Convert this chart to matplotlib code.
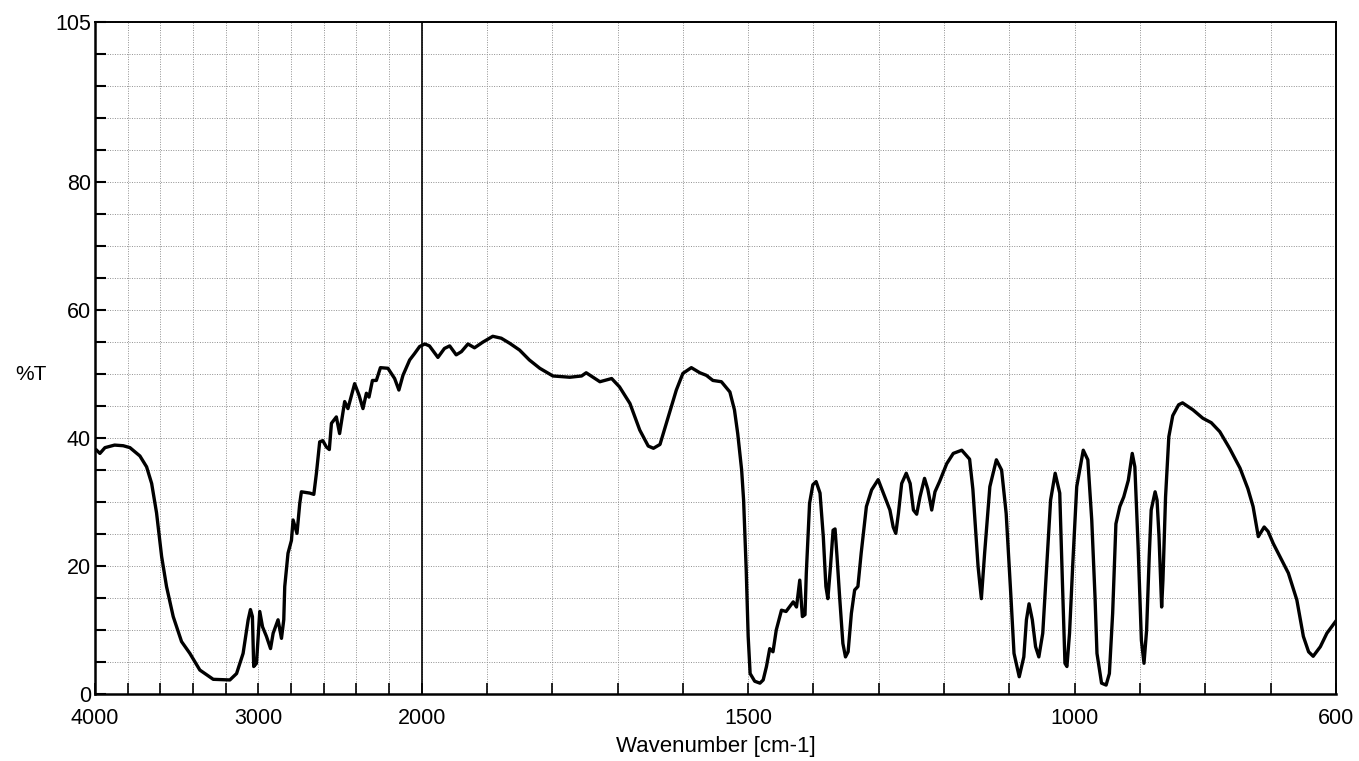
import numpy as np
import matplotlib
matplotlib.use("Agg")
import matplotlib.pyplot as plt
from matplotlib.ticker import NullLocator

plt.rcParams["font.family"] = ["Liberation Sans", "DejaVu Sans"]

# IR spectrum (wavenumber in cm-1, transmittance in %T)
wavenumber = [
    3990, 3970, 3939, 3880, 3827, 3786, 3725, 3684, 3653, 3623, 3592, 3562,
    3521, 3470, 3419, 3358, 3276, 3174, 3133, 3093, 3062, 3048, 3036, 3028,
    3011, 2991, 2974, 2950, 2925, 2909, 2879, 2858, 2844, 2838, 2818, 2797,
    2787, 2763, 2746, 2736, 2685, 2660, 2644, 2624, 2605, 2583, 2565, 2552,
    2522, 2502, 2471, 2451, 2410, 2383, 2359, 2338, 2322, 2301, 2277, 2252,
    2206, 2165, 2139, 2114, 2073, 2043, 2012, 1995, 1988, 1975, 1965, 1957,
    1947, 1939, 1929, 1919, 1906, 1891, 1878, 1865, 1850, 1835, 1819, 1804,
    1799, 1773, 1755, 1748, 1727, 1709, 1697, 1681, 1666, 1653, 1645, 1635,
    1623, 1610, 1600, 1587, 1574, 1564, 1554, 1541, 1528, 1521, 1516, 1510,
    1507, 1503, 1500, 1497, 1490, 1482, 1477, 1472, 1467, 1462, 1457, 1449,
    1442, 1431, 1426, 1421, 1417, 1413, 1411, 1406, 1401, 1396, 1390, 1385,
    1381, 1378, 1374, 1370, 1367, 1364, 1360, 1355, 1351, 1347, 1342, 1337,
    1332, 1327, 1319, 1311, 1301, 1293, 1283, 1278, 1274, 1270, 1265, 1258,
    1252, 1247, 1242, 1237, 1230, 1225, 1219, 1214, 1207, 1196, 1186, 1173,
    1161, 1156, 1148, 1143, 1138, 1130, 1120, 1112, 1105, 1098, 1093, 1085,
    1078, 1074, 1070, 1065, 1060, 1055, 1049, 1043, 1037, 1030, 1023, 1019,
    1015, 1012, 1008, 1003, 997, 987, 980, 974, 969, 966, 959, 952,
    947, 942, 937, 931, 925, 918, 912, 908, 903, 898, 894, 890,
    886, 883, 877, 874, 871, 867, 865, 861, 856, 850, 841, 835,
    819, 804, 791, 778, 763, 747, 735, 727, 719, 710, 704, 696,
    686, 673, 660, 650, 642, 635, 624, 614, 601,
]
transmittance = [
    38.1, 37.6, 38.5, 38.9, 38.8, 38.5, 37.2, 35.5, 32.9, 28.3, 21.5, 16.8,
    12.1, 8.2, 6.35, 3.75, 2.3, 2.2, 3.2, 6.35, 11.6, 13.2, 12.1, 4.3,
    4.8, 12.9, 10.5, 9.0, 7.1, 9.5, 11.6, 8.7, 11.6, 16.8, 22.0, 24.0,
    27.2, 25.1, 29.8, 31.6, 31.4, 31.2, 34.5, 39.4, 39.6, 38.6, 38.2, 42.3,
    43.3, 40.7, 45.7, 44.6, 48.5, 46.7, 44.6, 47.0, 46.4, 49.0, 49.0, 51.0,
    50.9, 49.3, 47.5, 49.8, 52.2, 53.2, 54.3, 54.7, 54.4, 52.6, 54.0, 54.4,
    53.0, 53.5, 54.7, 54.1, 55.0, 55.9, 55.6, 54.8, 53.75, 52.2, 50.9, 50.0,
    49.7, 49.5, 49.7, 50.2, 48.8, 49.3, 48.0, 45.4, 41.25, 38.75, 38.4, 39.0,
    43.1, 47.5, 50.1, 51.0, 50.2, 49.8, 49.0, 48.8, 47.2, 44.4, 40.7, 35.0,
    30.3, 19.4, 9.0, 3.2, 2.0, 1.7, 2.2, 4.3, 7.1, 6.6, 10.0, 13.1,
    12.9, 14.4, 13.6, 17.8, 12.1, 12.4, 18.9, 29.8, 32.7, 33.2, 31.4, 24.6,
    16.8, 14.9, 19.9, 25.6, 25.8, 21.5, 15.2, 7.9, 5.8, 6.6, 12.6, 16.25,
    16.8, 22.0, 29.3, 31.9, 33.5, 31.4, 28.75, 26.1, 25.1, 28.2, 32.9, 34.5,
    32.9, 28.75, 28.1, 30.8, 33.7, 32.0, 28.75, 31.6, 33.2, 36.0, 37.6, 38.1,
    36.7, 32.0, 19.9, 14.9, 22.0, 32.4, 36.6, 35.0, 28.2, 15.7, 6.35, 2.7,
    5.8, 11.6, 14.1, 11.6, 7.4, 5.8, 9.5, 19.9, 30.3, 34.5, 31.4, 17.8,
    4.8, 4.3, 9.5, 20.4, 32.4, 38.1, 36.6, 27.2, 15.2, 6.35, 1.7, 1.4,
    3.2, 12.6, 26.6, 29.3, 30.8, 33.4, 37.6, 35.5, 23.0, 8.4, 4.8, 10.0,
    21.5, 28.75, 31.6, 30.3, 24.6, 13.6, 17.8, 30.8, 40.2, 43.5, 45.2, 45.5,
    44.4, 43.1, 42.4, 41.0, 38.4, 35.3, 32.1, 29.3, 24.6, 26.1, 25.4, 23.5,
    21.5, 18.9, 14.7, 9.0, 6.6, 5.9, 7.4, 9.5, 11.3,
]

x_ticks = list(range(4000, 2000, -200)) + list(range(2000, 599, -100))
x_labels = {4000: "4000", 3000: "3000", 2000: "2000",
            1500: "1500", 1000: "1000", 600: "600"}
y_ticks = list(range(0, 106, 5))
y_labels = {0: "0", 20: "20", 40: "40", 60: "60", 80: "80", 105: "105"}


# Below 2000 cm-1 the axis is stretched four times
def fwd(w):
    w = np.asarray(w, dtype=float)
    return np.where(w >= 2000, w, 4 * w - 6000)


def inv(u):
    u = np.asarray(u, dtype=float)
    return np.where(u >= 2000, u, (u + 6000) / 4)


fig = plt.figure(figsize=(13.59, 7.61), dpi=100)
ax = fig.add_axes([0.0699, 0.088, 0.9132, 0.883])
ax.set_xscale("function", functions=(fwd, inv))

ax.plot(wavenumber, transmittance, color="black", linewidth=2.4,
        solid_joinstyle="round", zorder=3)
ax.axvline(2000, color="black", linewidth=1.2, zorder=2)

ax.set_xlim(4000, 600)
ax.set_ylim(0, 105)

ax.set_xticks(x_ticks)
ax.set_xticklabels([x_labels.get(t, "") for t in x_ticks])
ax.set_yticks(y_ticks)
ax.set_yticklabels([y_labels.get(t, "") for t in y_ticks])
ax.xaxis.set_minor_locator(NullLocator())
ax.yaxis.set_minor_locator(NullLocator())

ax.tick_params(axis="x", direction="in", length=8, width=1.2,
               labelsize=15.5, pad=10)
ax.tick_params(axis="y", direction="in", length=8, width=1.5,
               labelsize=15.5, pad=3)

ax.grid(True, color="#909090", linestyle=(0, (1, 1.5)), linewidth=0.7)

for side in ["left", "bottom"]:
    ax.spines[side].set_linewidth(1.8)
for side in ["top", "right"]:
    ax.spines[side].set_linewidth(1.4)

ax.set_xlabel("Wavenumber [cm-1]", fontsize=16, labelpad=5)
ax.set_ylabel("%T", fontsize=15, rotation=0, va="center")
ax.yaxis.set_label_coords(-0.052, 0.475)

fig.savefig("out.png", dpi=100)
